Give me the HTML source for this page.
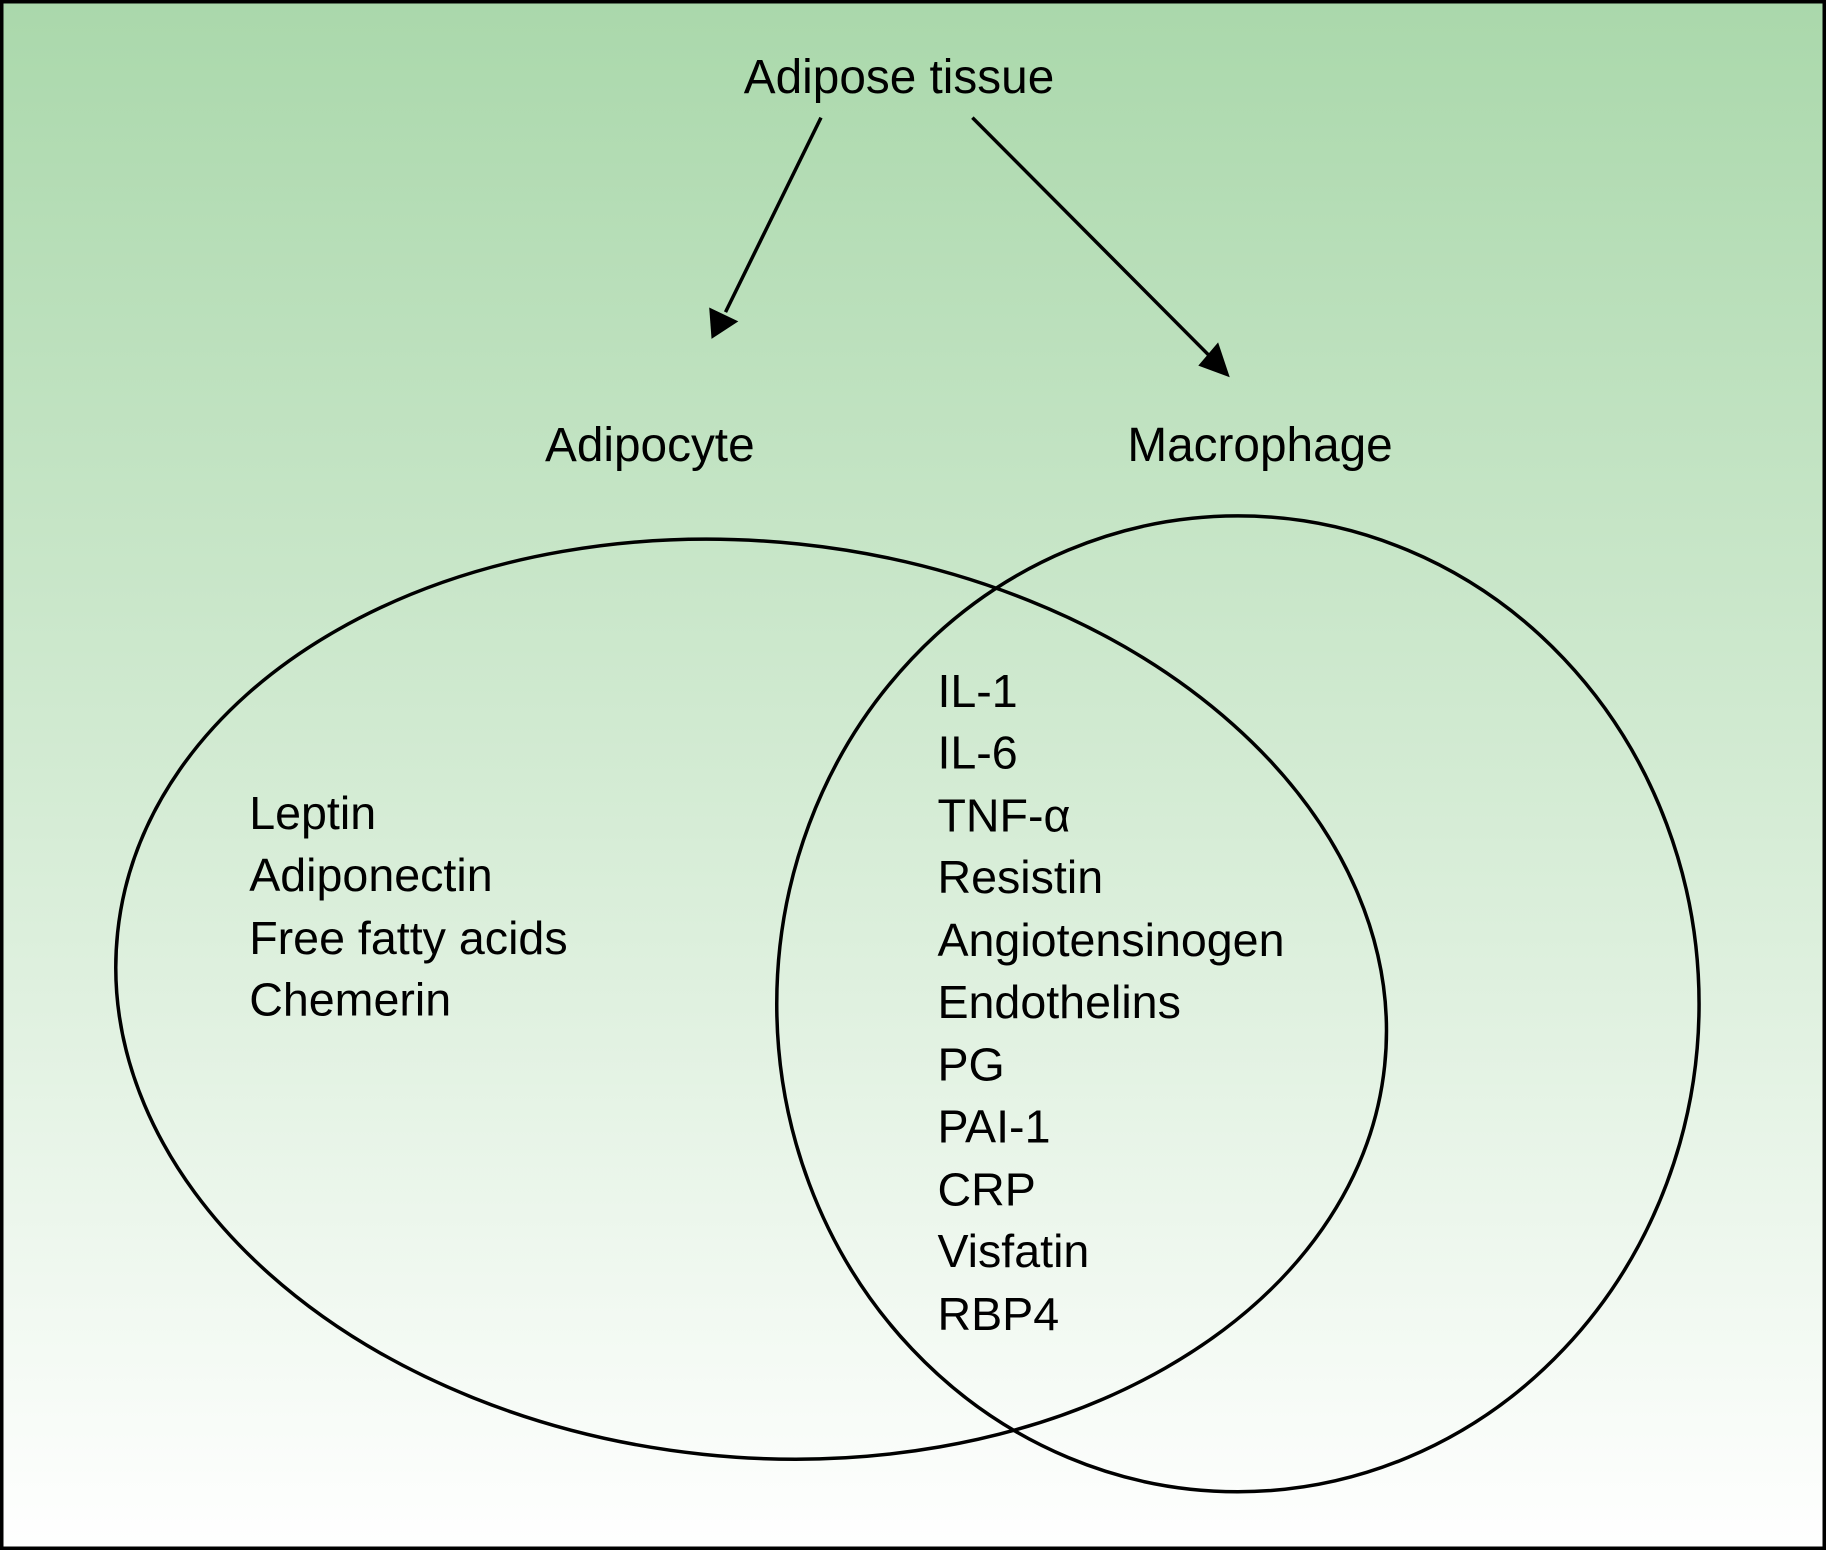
<!DOCTYPE html>
<html><head><meta charset="utf-8"><style>
html,body{margin:0;padding:0;background:#fff}
svg{display:block}
text{font-family:"Liberation Sans",Arial,sans-serif;fill:#000}
</style></head><body>
<svg width="1826" height="1550" viewBox="0 0 1568 1331" xmlns="http://www.w3.org/2000/svg">
<defs>
<linearGradient id="g" x1="0" y1="0" x2="0" y2="1">
<stop offset="0" stop-color="#aad8ab"/>
<stop offset="0.5" stop-color="#d3ebd3"/>
<stop offset="1" stop-color="#ffffff"/>
</linearGradient>
</defs>
<rect x="1.5" y="1.5" width="1565" height="1328" fill="url(#g)" stroke="#000" stroke-width="3"/>
<text x="772" y="80" font-size="41" text-anchor="middle">Adipose tissue</text>
<line x1="705" y1="101" x2="623" y2="268" stroke="#000" stroke-width="3"/>
<polygon points="611,291 609,264 634,276" fill="#000"/>
<line x1="835" y1="101" x2="1038" y2="305" stroke="#000" stroke-width="3"/>
<polygon points="1056,324 1029,314 1046,294" fill="#000"/>
<text x="558" y="396" font-size="41" text-anchor="middle">Adipocyte</text>
<text x="1082" y="396" font-size="41" text-anchor="middle">Macrophage</text>
<ellipse cx="645" cy="858" rx="547" ry="393" transform="rotate(6 645 858)" fill="none" stroke="#000" stroke-width="3"/>
<ellipse cx="1063" cy="862" rx="396" ry="419" fill="none" stroke="#000" stroke-width="3"/>
<g font-size="40">
<text x="214" y="712">Leptin</text>
<text x="214" y="765">Adiponectin</text>
<text x="214" y="819">Free fatty acids</text>
<text x="214" y="872">Chemerin</text>
<text x="805" y="607">IL-1</text>
<text x="805" y="660">IL-6</text>
<text x="805" y="714">TNF-α</text>
<text x="805" y="767">Resistin</text>
<text x="805" y="821">Angiotensinogen</text>
<text x="805" y="874">Endothelins</text>
<text x="805" y="928">PG</text>
<text x="805" y="981">PAI-1</text>
<text x="805" y="1035">CRP</text>
<text x="805" y="1088">Visfatin</text>
<text x="805" y="1142">RBP4</text>
</g>
</svg>
</body></html>
